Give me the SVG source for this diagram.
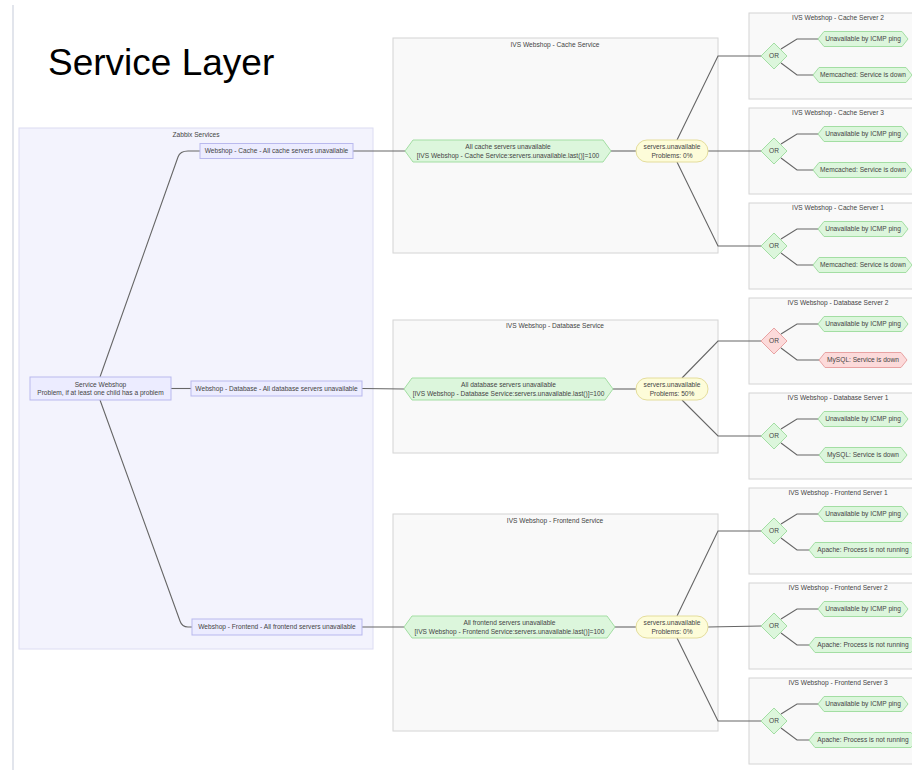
<svg xmlns="http://www.w3.org/2000/svg" width="912" height="770" viewBox="0 0 912 770">
<style>
text{font-family:"Liberation Sans",Arial,sans-serif;font-size:6.6px;fill:#444;text-anchor:middle}
.title{font-size:37px;fill:#000;text-anchor:start}
.cluster{fill:#f9f9f9;stroke:#d4d4d4;stroke-width:1}
.zcluster{fill:#f3f3fd;stroke:#dcdcf2;stroke-width:1}
.lav{fill:#ececff;stroke:#b9b9ee;stroke-width:1}
.green{fill:#dcf6dc;stroke:#a3dea3;stroke-width:1}
.red{fill:#fcdada;stroke:#e8a3a3;stroke-width:1}
.yellow{fill:#fdfcd9;stroke:#e4dd9c;stroke-width:1}
.edge{fill:none;stroke:#666;stroke-width:1.1}
</style>
<rect width="912" height="770" fill="#fff"/>
<line x1="13" y1="5" x2="13" y2="770" stroke="#e2e5ec" stroke-width="2"/>
<text class="title" x="48" y="75">Service Layer</text>

<g id="zabbix-services">
<rect class="zcluster" x="19" y="128" width="354" height="521"/>
<text x="196" y="137">Zabbix Services</text>
</g>

<g id="cache-service">
<rect class="cluster" x="393" y="38" width="325" height="215"/>
<text x="555" y="47">IVS Webshop - Cache Service</text>
</g>
<g id="database-service">
<rect class="cluster" x="393" y="320" width="325" height="133"/>
<text x="555" y="328">IVS Webshop - Database Service</text>
</g>
<g id="frontend-service">
<rect class="cluster" x="393" y="514" width="325" height="217"/>
<text x="555" y="523">IVS Webshop - Frontend Service</text>
</g>

<g id="server-boxes">
<g id="cache-server-2"><rect class="cluster" x="749" y="13" width="170" height="86"/><text x="838" y="20">IVS Webshop - Cache Server 2</text></g>
<g id="cache-server-3"><rect class="cluster" x="749" y="108" width="170" height="86"/><text x="838" y="115">IVS Webshop - Cache Server 3</text></g>
<g id="cache-server-1"><rect class="cluster" x="749" y="203" width="170" height="86"/><text x="838" y="210">IVS Webshop - Cache Server 1</text></g>
<g id="database-server-2"><rect class="cluster" x="749" y="298" width="170" height="86"/><text x="838" y="305">IVS Webshop - Database Server 2</text></g>
<g id="database-server-1"><rect class="cluster" x="749" y="393" width="170" height="86"/><text x="838" y="400">IVS Webshop - Database Server 1</text></g>
<g id="frontend-server-1"><rect class="cluster" x="749" y="488" width="170" height="86"/><text x="838" y="495">IVS Webshop - Frontend Server 1</text></g>
<g id="frontend-server-2"><rect class="cluster" x="749" y="583" width="170" height="86"/><text x="838" y="590">IVS Webshop - Frontend Server 2</text></g>
<g id="frontend-server-3"><rect class="cluster" x="749" y="678" width="170" height="86"/><text x="838" y="685">IVS Webshop - Frontend Server 3</text></g>
</g>

<g id="connectors">
<path class="edge" d="M100,377 L178,157 Q180,151 188,151 L200,151"/>
<path class="edge" d="M171,388.5 L191,388.5"/>
<path class="edge" d="M100,400 L180,621 Q182,627 188,627 L192,627"/>
<path class="edge" d="M353,151 L405,151"/>
<path class="edge" d="M362,388.5 L404,389"/>
<path class="edge" d="M362,627 L404,627"/>
<path class="edge" d="M611,151 L636,151"/>
<path class="edge" d="M613,389 L636,389"/>
<path class="edge" d="M615,627 L636,627"/>
<path class="edge" d="M677,140 L718,56 L761,56"/>
<path class="edge" d="M708,151 L761,151"/>
<path class="edge" d="M677,162 L718,246 L761,246"/>
<path class="edge" d="M682,378 L718,341 L761,341"/>
<path class="edge" d="M682,400 L718,436 L761,436"/>
<path class="edge" d="M677,616 L718,531 L761,531"/>
<path class="edge" d="M708,627 L761,626"/>
<path class="edge" d="M677,638 L718,721 L761,721"/>
<path class="edge" d="M781,49 L797,39 L818,39 M781,63 L797,75 L813,75"/>
<path class="edge" d="M781,144 L797,134 L818,134 M781,158 L797,170 L813,170"/>
<path class="edge" d="M781,239 L797,229 L818,229 M781,253 L797,265 L813,265"/>
<path class="edge" d="M781,334 L797,324 L818,324 M781,348 L797,360 L819,360"/>
<path class="edge" d="M781,429 L797,419 L818,419 M781,443 L797,455 L819,455"/>
<path class="edge" d="M781,524 L797,514 L818,514 M781,538 L797,550 L809,550"/>
<path class="edge" d="M781,619 L797,609 L818,609 M781,633 L797,645 L809,645"/>
<path class="edge" d="M781,714 L797,704 L818,704 M781,728 L797,740 L809,740"/>
</g>

<g id="service-webshop">
<rect class="lav" x="30" y="377" width="141" height="23"/>
<text x="100.5" y="387">Service Webshop</text>
<text x="100.5" y="395">Problem, if at least one child has a problem</text>
</g>
<g id="webshop-cache">
<rect class="lav" x="200" y="143.5" width="153" height="15"/>
<text x="276.5" y="153.3">Webshop - Cache - All cache servers unavailable</text>
</g>
<g id="webshop-database">
<rect class="lav" x="191" y="381" width="171" height="15"/>
<text x="276.5" y="390.8">Webshop - Database - All database servers unavailable</text>
</g>
<g id="webshop-frontend">
<rect class="lav" x="192" y="619" width="170" height="16"/>
<text x="277" y="629.3">Webshop - Frontend - All frontend servers unavailable</text>
</g>

<g id="cache-trigger">
<polygon class="green" points="405,151 413,140 603,140 611,151 603,162 413,162"/>
<text x="508" y="148.7">All cache servers unavailable</text>
<text x="508" y="158">[IVS Webshop - Cache Service:servers.unavailable.last()]=100</text>
</g>
<g id="database-trigger">
<polygon class="green" points="404,389 412,378 605,378 613,389 605,400 412,400"/>
<text x="508.5" y="386.7">All database servers unavailable</text>
<text x="508.5" y="396">[IVS Webshop - Database Service:servers.unavailable.last()]=100</text>
</g>
<g id="frontend-trigger">
<polygon class="green" points="404,627 412,616 607,616 615,627 607,638 412,638"/>
<text x="509.5" y="624.7">All frontend servers unavailable</text>
<text x="509.5" y="634">[IVS Webshop - Frontend Service:servers.unavailable.last()]=100</text>
</g>

<g id="cache-item">
<rect class="yellow" x="636" y="140" width="72" height="22" rx="11"/>
<text x="672" y="148.7">servers.unavailable</text>
<text x="672" y="158">Problems: 0%</text>
</g>
<g id="database-item">
<rect class="yellow" x="636" y="378" width="72" height="22" rx="11"/>
<text x="672" y="386.7">servers.unavailable</text>
<text x="672" y="396">Problems: 50%</text>
</g>
<g id="frontend-item">
<rect class="yellow" x="636" y="616" width="72" height="22" rx="11"/>
<text x="672" y="624.7">servers.unavailable</text>
<text x="672" y="634">Problems: 0%</text>
</g>

<g id="cs2-or"><polygon class="green" points="761,56 774,43 787,56 774,69"/><text x="774" y="58.3">OR</text></g>
<g id="cs2-icmp"><polygon class="green" points="818,39 824,31.5 902,31.5 908,39 902,46.5 824,46.5"/><text x="863" y="41.3">Unavailable by ICMP ping</text></g>
<g id="cs2-mem"><polygon class="green" points="813,75 819,67.5 906,67.5 912,75 906,82.5 819,82.5"/><text x="863" y="77.3">Memcached: Service is down</text></g>

<g id="cs3-or"><polygon class="green" points="761,151 774,138 787,151 774,164"/><text x="774" y="153.3">OR</text></g>
<g id="cs3-icmp"><polygon class="green" points="818,134 824,126.5 902,126.5 908,134 902,141.5 824,141.5"/><text x="863" y="136.3">Unavailable by ICMP ping</text></g>
<g id="cs3-mem"><polygon class="green" points="813,170 819,162.5 906,162.5 912,170 906,177.5 819,177.5"/><text x="863" y="172.3">Memcached: Service is down</text></g>

<g id="cs1-or"><polygon class="green" points="761,246 774,233 787,246 774,259"/><text x="774" y="248.3">OR</text></g>
<g id="cs1-icmp"><polygon class="green" points="818,229 824,221.5 902,221.5 908,229 902,236.5 824,236.5"/><text x="863" y="231.3">Unavailable by ICMP ping</text></g>
<g id="cs1-mem"><polygon class="green" points="813,265 819,257.5 906,257.5 912,265 906,272.5 819,272.5"/><text x="863" y="267.3">Memcached: Service is down</text></g>

<g id="ds2-or"><polygon class="red" points="761,341 774,328 787,341 774,354"/><text x="774" y="343.3">OR</text></g>
<g id="ds2-icmp"><polygon class="green" points="818,324 824,316.5 902,316.5 908,324 902,331.5 824,331.5"/><text x="863" y="326.3">Unavailable by ICMP ping</text></g>
<g id="ds2-mysql"><polygon class="red" points="819,360 825,352.5 901,352.5 907,360 901,367.5 825,367.5"/><text x="863" y="362.3">MySQL: Service is down</text></g>

<g id="ds1-or"><polygon class="green" points="761,436 774,423 787,436 774,449"/><text x="774" y="438.3">OR</text></g>
<g id="ds1-icmp"><polygon class="green" points="818,419 824,411.5 902,411.5 908,419 902,426.5 824,426.5"/><text x="863" y="421.3">Unavailable by ICMP ping</text></g>
<g id="ds1-mysql"><polygon class="green" points="819,455 825,447.5 901,447.5 907,455 901,462.5 825,462.5"/><text x="863" y="457.3">MySQL: Service is down</text></g>

<g id="fs1-or"><polygon class="green" points="761,531 774,518 787,531 774,544"/><text x="774" y="533.3">OR</text></g>
<g id="fs1-icmp"><polygon class="green" points="818,514 824,506.5 902,506.5 908,514 902,521.5 824,521.5"/><text x="863" y="516.3">Unavailable by ICMP ping</text></g>
<g id="fs1-apache"><polygon class="green" points="809,550 815,542.5 911,542.5 917,550 911,557.5 815,557.5"/><text x="863" y="552.3">Apache: Process is not running</text></g>

<g id="fs2-or"><polygon class="green" points="761,626 774,613 787,626 774,639"/><text x="774" y="628.3">OR</text></g>
<g id="fs2-icmp"><polygon class="green" points="818,609 824,601.5 902,601.5 908,609 902,616.5 824,616.5"/><text x="863" y="611.3">Unavailable by ICMP ping</text></g>
<g id="fs2-apache"><polygon class="green" points="809,645 815,637.5 911,637.5 917,645 911,652.5 815,652.5"/><text x="863" y="647.3">Apache: Process is not running</text></g>

<g id="fs3-or"><polygon class="green" points="761,721 774,708 787,721 774,734"/><text x="774" y="723.3">OR</text></g>
<g id="fs3-icmp"><polygon class="green" points="818,704 824,696.5 902,696.5 908,704 902,711.5 824,711.5"/><text x="863" y="706.3">Unavailable by ICMP ping</text></g>
<g id="fs3-apache"><polygon class="green" points="809,740 815,732.5 911,732.5 917,740 911,747.5 815,747.5"/><text x="863" y="742.3">Apache: Process is not running</text></g>
</svg>
